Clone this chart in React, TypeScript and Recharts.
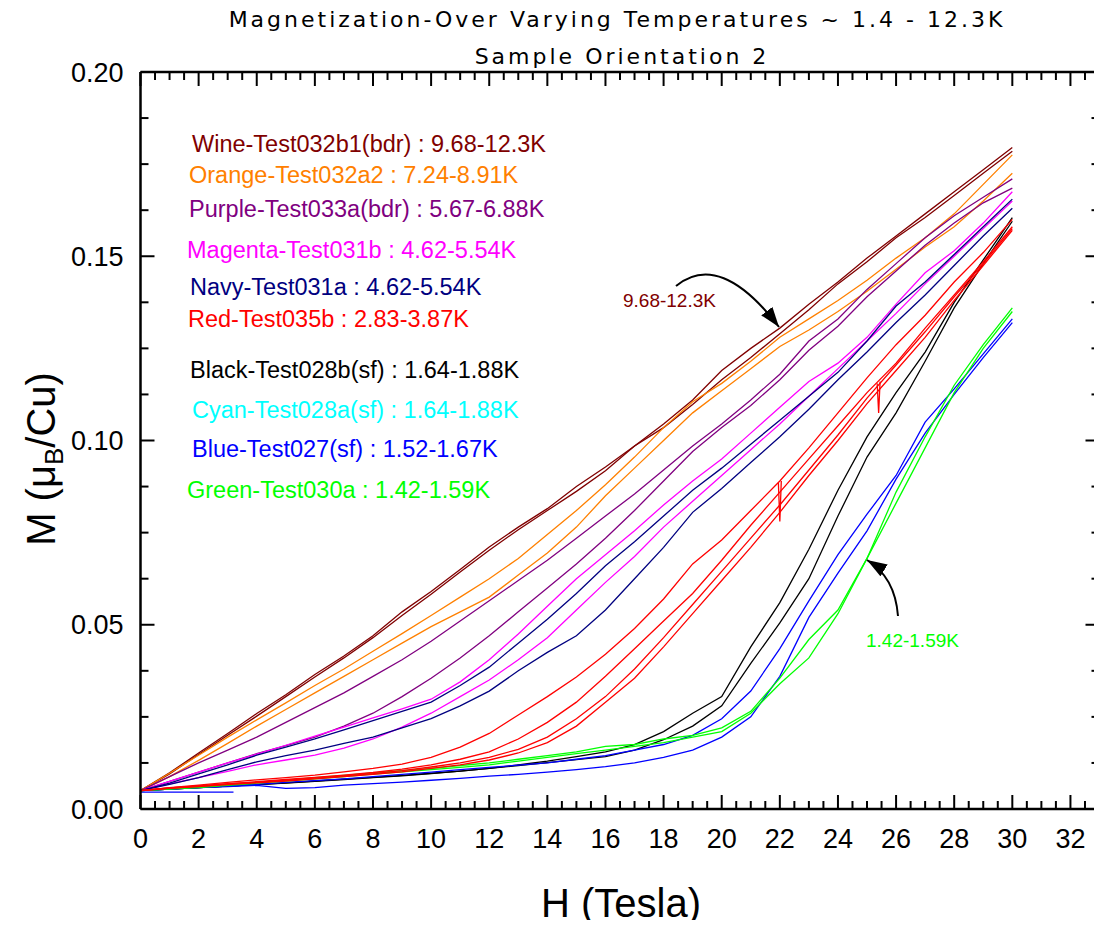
import React from "react";
import { LineChart, Line, XAxis, YAxis, ReferenceLine } from "recharts";

// ---------- data ----------
const H = [0,1,2,3,4,5,6,7,8,9,10,11,12,13,14,15,16,17,18,19,20,21,22,23,24,25,26,27,28,29,30];

const wineA = [0.005,0.0098,0.0152,0.0205,0.0259,0.031,0.0365,0.0415,0.047,0.0535,0.059,0.065,0.0711,0.0765,0.0815,0.0875,0.0928,0.0985,0.1045,0.111,0.119,0.125,0.1305,0.137,0.143,0.1495,0.1555,0.1615,0.1675,0.1735,0.1795];
const wineB = [0.005,0.0095,0.0148,0.02,0.0252,0.0305,0.0358,0.041,0.0465,0.0525,0.0583,0.0643,0.0702,0.0758,0.081,0.0862,0.0918,0.0985,0.1035,0.1098,0.1165,0.1225,0.129,0.1355,0.1425,0.1485,0.155,0.1605,0.1665,0.1725,0.1785];
const orangeA = [0.005,0.0097,0.0146,0.0195,0.0242,0.0288,0.0335,0.038,0.0428,0.0476,0.0525,0.0575,0.0625,0.068,0.0745,0.081,0.088,0.0955,0.1035,0.1105,0.1155,0.1215,0.128,0.133,0.138,0.1435,0.1495,0.155,0.1615,0.1695,0.1775];
const orangeB = [0.005,0.0088,0.0132,0.0178,0.0225,0.027,0.0315,0.036,0.0405,0.045,0.0495,0.0535,0.0575,0.0635,0.0695,0.0765,0.085,0.0925,0.1,0.1075,0.1135,0.1195,0.1255,0.13,0.135,0.1405,0.1465,0.1525,0.158,0.165,0.1725];
const purpleA = [0.005,0.0088,0.0125,0.016,0.0195,0.0235,0.0275,0.0315,0.036,0.0405,0.0455,0.051,0.0565,0.062,0.0675,0.0735,0.0795,0.0855,0.092,0.0985,0.1045,0.111,0.118,0.127,0.133,0.141,0.148,0.155,0.161,0.166,0.171];
const purpleB = [0.005,0.0075,0.01,0.0125,0.015,0.0172,0.0195,0.0225,0.026,0.0305,0.0355,0.041,0.047,0.0535,0.06,0.0665,0.0735,0.081,0.089,0.097,0.1035,0.1095,0.1165,0.1245,0.131,0.139,0.146,0.153,0.159,0.1645,0.1685];
const magentaA = [0.005,0.0075,0.01,0.0125,0.0149,0.0173,0.0198,0.0222,0.0247,0.0272,0.0298,0.0345,0.0405,0.0475,0.055,0.0625,0.069,0.0755,0.0825,0.089,0.095,0.102,0.109,0.116,0.121,0.128,0.137,0.1455,0.1515,0.159,0.1675];
const magentaB = [0.005,0.0068,0.0085,0.0102,0.012,0.0133,0.0146,0.0165,0.019,0.0222,0.026,0.0305,0.035,0.0405,0.0465,0.054,0.0615,0.0685,0.0765,0.0835,0.0905,0.0975,0.1045,0.112,0.1195,0.127,0.1345,0.1425,0.15,0.1575,0.165];
const navyA = [0.005,0.007,0.0095,0.012,0.0146,0.0168,0.019,0.0215,0.024,0.0265,0.029,0.0335,0.0385,0.045,0.0515,0.0585,0.066,0.0725,0.0795,0.0865,0.0925,0.099,0.1055,0.112,0.1185,0.127,0.1365,0.143,0.1505,0.158,0.1655];
const navyB = [0.005,0.0067,0.0085,0.0107,0.0128,0.0145,0.016,0.0178,0.0195,0.022,0.0245,0.028,0.032,0.0375,0.0425,0.047,0.054,0.0625,0.071,0.0805,0.087,0.094,0.101,0.1085,0.1165,0.124,0.132,0.1395,0.1475,0.1555,0.163];
const red1 = [0.005,0.0058,0.0065,0.0072,0.0079,0.0085,0.0092,0.0101,0.011,0.0122,0.014,0.0168,0.0205,0.0255,0.0305,0.0358,0.042,0.049,0.057,0.0665,0.073,0.081,0.089,0.098,0.1075,0.117,0.126,0.134,0.143,0.151,0.16];
const red2 = [0.005,0.0057,0.0063,0.0069,0.0074,0.008,0.0086,0.0092,0.0099,0.0108,0.012,0.0135,0.0155,0.019,0.0235,0.029,0.036,0.0435,0.051,0.0585,0.0675,0.077,0.086,0.095,0.104,0.113,0.121,0.1305,0.1395,0.1485,0.158];
const red3 = [0.005,0.0056,0.0061,0.0066,0.0071,0.0076,0.0082,0.0088,0.0094,0.0101,0.011,0.012,0.0133,0.0152,0.018,0.0225,0.029,0.0355,0.044,0.053,0.062,0.071,0.0805,0.0905,0.1,0.11,0.119,0.128,0.138,0.1475,0.157];
const red4 = [0.005,0.0057,0.0062,0.0068,0.0073,0.0078,0.0084,0.009,0.0096,0.0104,0.0114,0.0125,0.014,0.0162,0.0195,0.0245,0.0305,0.038,0.0465,0.0555,0.0645,0.0735,0.0825,0.092,0.1015,0.1115,0.1205,0.1295,0.139,0.148,0.1575];
const black1 = [0.005,0.0054,0.0058,0.0062,0.0066,0.007,0.0075,0.008,0.0085,0.009,0.0096,0.0103,0.011,0.012,0.013,0.0142,0.0155,0.0175,0.021,0.026,0.0305,0.044,0.056,0.0705,0.0865,0.101,0.113,0.124,0.1375,0.149,0.1605];
const black2 = [0.005,0.0054,0.0058,0.0062,0.0066,0.0071,0.0076,0.0081,0.0086,0.0091,0.0097,0.0103,0.011,0.0118,0.0126,0.0134,0.0142,0.016,0.0188,0.0225,0.028,0.0395,0.0505,0.0625,0.0795,0.0955,0.1075,0.1215,0.136,0.148,0.1595];
const blue1 = [0.005,0.0054,0.0058,0.0062,0.0067,0.0072,0.0077,0.0082,0.0088,0.0094,0.01,0.0107,0.0113,0.0119,0.0125,0.0135,0.0145,0.016,0.0175,0.02,0.0245,0.032,0.0435,0.0565,0.069,0.08,0.0905,0.105,0.114,0.1235,0.133];
const blue2 = [0.005,0.0054,0.0058,0.0061,0.0064,0.0056,0.0058,0.0065,0.0069,0.0073,0.0078,0.0083,0.0089,0.0094,0.01,0.0107,0.0115,0.0125,0.014,0.016,0.0195,0.025,0.036,0.052,0.064,0.0755,0.0895,0.102,0.1125,0.1225,0.132];
const green1 = [0.005,0.0055,0.006,0.0066,0.0072,0.0078,0.0085,0.0091,0.0098,0.0104,0.011,0.0118,0.0125,0.0135,0.0145,0.0155,0.017,0.0175,0.019,0.02,0.022,0.0265,0.0355,0.046,0.054,0.068,0.086,0.101,0.115,0.126,0.136];
const green2 = [0.005,0.0054,0.0058,0.0064,0.007,0.0076,0.0082,0.0088,0.0095,0.0101,0.0107,0.0113,0.012,0.013,0.014,0.015,0.016,0.017,0.018,0.0195,0.021,0.026,0.034,0.041,0.053,0.068,0.083,0.098,0.113,0.125,0.135];

const blueFlatH = [0, 3.2];
const blueFlatM = [0.0046, 0.0046];
const redSpike1H = [21.95, 22.0, 22.05];
const redSpike1M = [0.0885, 0.078, 0.089];
const redSpike2H = [25.35, 25.4, 25.45];
const redSpike2M = [0.1155, 0.1075, 0.116];

const xTicks = [0,0.5,1,1.5,2,2.5,3,3.5,4,4.5,5,5.5,6,6.5,7,7.5,8,8.5,9,9.5,10,10.5,11,11.5,12,12.5,13,13.5,14,14.5,15,15.5,16,16.5,17,17.5,18,18.5,19,19.5,20,20.5,21,21.5,22,22.5,23,23.5,24,24.5,25,25.5,26,26.5,27,27.5,28,28.5,29,29.5,30,30.5,31,31.5,32,32.5];
const yTicks = [0,0.0125,0.025,0.0375,0.05,0.0625,0.075,0.0875,0.1,0.1125,0.125,0.1375,0.15,0.1625,0.175,0.1875,0.2];

const legendLabels = [
  "Wine-Test032b1(bdr) : 9.68-12.3K",
  "Orange-Test032a2 : 7.24-8.91K",
  "Purple-Test033a(bdr) : 5.67-6.88K",
  "Magenta-Test031b : 4.62-5.54K",
  "Navy-Test031a : 4.62-5.54K",
  "Red-Test035b : 2.83-3.87K",
  "Black-Test028b(sf) : 1.64-1.88K",
  "Cyan-Test028a(sf) : 1.64-1.88K",
  "Blue-Test027(sf) : 1.52-1.67K",
  "Green-Test030a : 1.42-1.59K",
];

// ---------- styles ----------
const C = {
  wine: "#800000", orange: "#FF8000", purple: "#800080", magenta: "#FF00FF", navy: "#000080",
  red: "#FF0000", black: "#000000", cyan: "#00FFFF", blue: "#0000FF", green: "#00FF00",
};
const legendColors = [C.wine, C.orange, C.purple, C.magenta, C.navy, C.red, C.black, C.cyan, C.blue, C.green];
const legendPos = [[184,144],[181,175],[181,209],[179,250],[182,287],[180,319],[182,370],[184,410],[184,449],[179,490]];

const FONT = "'Liberation Sans', Arial, Helvetica, sans-serif";
const TFONT = "'DejaVu Sans', Verdana, sans-serif";
const W = 1094, HGT = 912;
const XAX_H = 60, YAX_W = 132.5;
const M = { top: 64, right: 2.5, bottom: 51, left: 0 };
const PLOT_TOP = M.top;
const PLOT_BOTTOM = HGT - M.bottom - XAX_H;

const toRows = (xs: number[], ys: number[]) => xs.map((h, i) => ({ h, m: ys[i] }));

const curves: { key: string; color: string; xs: number[]; ys: number[] }[] = [
  { key: "wineA", color: C.wine, xs: H, ys: wineA },
  { key: "wineB", color: C.wine, xs: H, ys: wineB },
  { key: "orangeA", color: C.orange, xs: H, ys: orangeA },
  { key: "orangeB", color: C.orange, xs: H, ys: orangeB },
  { key: "purpleA", color: C.purple, xs: H, ys: purpleA },
  { key: "purpleB", color: C.purple, xs: H, ys: purpleB },
  { key: "magentaA", color: C.magenta, xs: H, ys: magentaA },
  { key: "magentaB", color: C.magenta, xs: H, ys: magentaB },
  { key: "navyA", color: C.navy, xs: H, ys: navyA },
  { key: "navyB", color: C.navy, xs: H, ys: navyB },
  { key: "black1", color: C.black, xs: H, ys: black1 },
  { key: "black2", color: C.black, xs: H, ys: black2 },
  { key: "blue1", color: C.blue, xs: H, ys: blue1 },
  { key: "blue2", color: C.blue, xs: H, ys: blue2 },
  { key: "blueFlat", color: C.blue, xs: blueFlatH, ys: blueFlatM },
  { key: "green1", color: C.green, xs: H, ys: green1 },
  { key: "green2", color: C.green, xs: H, ys: green2 },
  { key: "red1", color: C.red, xs: H, ys: red1 },
  { key: "red2", color: C.red, xs: H, ys: red2 },
  { key: "red3", color: C.red, xs: H, ys: red3 },
  { key: "red4", color: C.red, xs: H, ys: red4 },
  { key: "redSpike1", color: C.red, xs: redSpike1H, ys: redSpike1M },
  { key: "redSpike2", color: C.red, xs: redSpike2H, ys: redSpike2M },
];

const isMajorX = (v: number) => Math.abs(v / 2 - Math.round(v / 2)) < 1e-6;
const isMajorY = (v: number) => Math.abs(v / 0.05 - Math.round(v / 0.05)) < 1e-6;

// bottom axis ticks (also mirrors them onto the top frame edge), pointing inward
const BottomTick = (p: any) => {
  const { x, payload } = p;
  const v = payload.value;
  const major = isMajorX(v);
  const len = major ? 14 : 8;
  return (
    <g>
      <line x1={x} y1={PLOT_BOTTOM} x2={x} y2={PLOT_BOTTOM - len} stroke="#000" strokeWidth={2} />
      <line x1={x} y1={PLOT_TOP} x2={x} y2={PLOT_TOP + len} stroke="#000" strokeWidth={2} />
      {major && (
        <text x={x} y={PLOT_BOTTOM + 39} textAnchor="middle" fontSize={27} fontFamily={FONT} fill="#000">{v}</text>
      )}
    </g>
  );
};
// left axis ticks (also mirrors them onto the right frame edge), pointing inward
const LeftTick = (p: any) => {
  const { y, payload } = p;
  const v = payload.value;
  const major = isMajorY(v);
  const len = major ? 14 : 8;
  const left = M.left + YAX_W;
  const right = W - M.right;
  return (
    <g>
      <line x1={left} y1={y} x2={left + len} y2={y} stroke="#000" strokeWidth={2} />
      <line x1={right} y1={y} x2={right - len} y2={y} stroke="#000" strokeWidth={2} />
      {major && (
        <text x={left - 17} y={y + 9.5} textAnchor="end" fontSize={27} fontFamily={FONT} fill="#000">{v.toFixed(2)}</text>
      )}
    </g>
  );
};

const axisLine = { stroke: "#000", strokeWidth: 2.5 };

export default function App() {
  return (
    <div style={{ position: "relative", width: W, height: HGT }}>
      <LineChart width={W} height={HGT} margin={M}>
        <XAxis type="number" dataKey="h" domain={[0, 33]} ticks={xTicks} interval={0} height={XAX_H}
          tickSize={0} tickMargin={0} tickLine={false} tick={<BottomTick />} axisLine={axisLine} allowDataOverflow />
        <YAxis type="number" domain={[0, 0.2]} ticks={yTicks} interval={0} width={YAX_W}
          tickSize={0} tickMargin={0} tickLine={false} tick={<LeftTick />} axisLine={axisLine} allowDataOverflow />
        <ReferenceLine y={0.2} stroke="#000" strokeWidth={2.5} />
        <ReferenceLine x={33} stroke="#000" strokeWidth={2.5} />
        {curves.map((c) => (
          <Line key={c.key} data={toRows(c.xs, c.ys)} dataKey="m" type="linear" stroke={c.color}
            strokeWidth={1.3} dot={false} activeDot={false} isAnimationActive={false} />
        ))}
      </LineChart>
      <svg width={W} height={HGT} style={{ position: "absolute", left: 0, top: 0, overflow: "visible", pointerEvents: "none" }}>
        <defs>
          <marker id="ah" markerUnits="userSpaceOnUse" markerWidth={22} markerHeight={16} refX={20} refY={7} orient="auto">
            <path d="M0,0 L20,7 L0,14 z" fill="#000" />
          </marker>
        </defs>
        <text x={609} y={19} textAnchor="middle" fontSize={22} letterSpacing={3} fontFamily={TFONT} fill="#000">
          Magnetization-Over Varying Temperatures ~ 1.4 - 12.3K
        </text>
        <text x={614} y={56} textAnchor="middle" fontSize={22} letterSpacing={3} fontFamily={TFONT} fill="#000">
          Sample Orientation 2
        </text>
        {legendLabels.map((t, i) => (
          <text key={t} x={legendPos[i][0]} y={legendPos[i][1]} fontSize={23.5} fontFamily={FONT} fill={legendColors[i]}>{t}</text>
        ))}
        <text x={615} y={299} fontSize={19} fontFamily={FONT} fill={C.wine}>9.68-12.3K</text>
        <path d="M668,278 Q712,242 771,319" fill="none" stroke="#000" strokeWidth={2} markerEnd="url(#ah)" />
        <text x={858} y={639} fontSize={19} fontFamily={FONT} fill={C.green}>1.42-1.59K</text>
        <path d="M890,608 Q887,569 859,552" fill="none" stroke="#000" strokeWidth={2} markerEnd="url(#ah)" />
        <text transform="rotate(-90, 47, 451)" x={47} y={451} textAnchor="middle" fontSize={40} fontFamily={FONT} fill="#000">
          M (μ<tspan fontSize={26} dy={8}>B</tspan><tspan dy={-8}>/Cu)</tspan>
        </text>
        <text x={613} y={909} textAnchor="middle" fontSize={40} fontFamily={FONT} fill="#000">H (Tesla)</text>
      </svg>
    </div>
  );
}
